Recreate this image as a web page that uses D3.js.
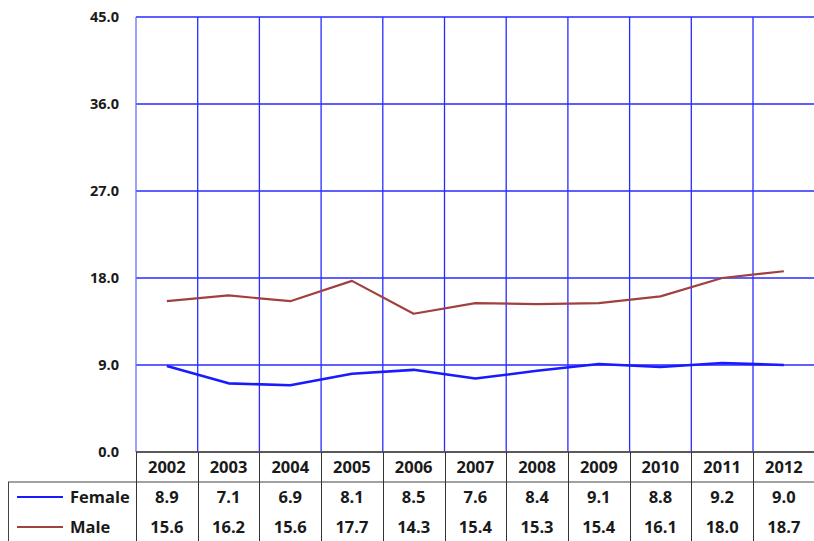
<!DOCTYPE html>
<html>
<head>
<meta charset="utf-8">
<script src="https://cdn.jsdelivr.net/npm/d3@7"></script>
<style>
  html, body { margin: 0; padding: 0; background: #fff; }
  svg { display: block; }
  text { font-family: "Open Sans", "Noto Sans", sans-serif; font-weight: bold; fill: #1a1a1a; }
</style>
</head>
<body>
<svg id="chart" width="814" height="541"></svg>
<script>
// Rates by year and sex
const years = ["2002","2003","2004","2005","2006","2007","2008","2009","2010","2011","2012"];
const female = [8.9, 7.1, 6.9, 8.1, 8.5, 7.6, 8.4, 9.1, 8.8, 9.2, 9.0];
const male = [15.6, 16.2, 15.6, 17.7, 14.3, 15.4, 15.3, 15.4, 16.1, 18.0, 18.7];
const yTicks = [0, 9, 18, 27, 36, 45];

const series = [
  { name: "Female", values: female, color: "#1a1aff", width: 2.6 },
  { name: "Male", values: male, color: "#a0403f", width: 2.2 }
];

const svg = d3.select("#chart");
const plotLeft = 136, plotRight = 814.7, plotTop = 17, plotBottom = 452;
const rowH = 30;
const tableLeft = 8;
const tableFont = 16.5;

const x = d3.scaleBand().domain(years).range([plotLeft, plotRight]).padding(0);
const y = d3.scaleLinear().domain([0, 45]).range([plotBottom, plotTop]);

// Horizontal gridlines
svg.append("g").selectAll("line").data(yTicks.filter(d => d > 0)).join("line")
  .attr("x1", plotLeft).attr("x2", plotRight)
  .attr("y1", d => y(d)).attr("y2", d => y(d))
  .attr("stroke", "#2a2aff").attr("stroke-width", 1.3);

// Vertical gridlines (category boundaries)
const bounds = years.map(d => x(d)).concat([plotRight]);
svg.append("g").selectAll("line").data(bounds).join("line")
  .attr("x1", d => d).attr("x2", d => d)
  .attr("y1", plotTop).attr("y2", plotBottom)
  .attr("stroke", (d, i) => i === 0 ? "#6a6aff" : "#2a2aff")
  .attr("stroke-width", 1.3);

// Y axis labels
const yAxis = d3.axisLeft(y).tickValues(yTicks).tickFormat(d3.format(".1f")).tickSize(0).tickPadding(17);
const ya = svg.append("g").attr("transform", `translate(${plotLeft},0)`).call(yAxis);
ya.select(".domain").remove();
ya.selectAll("text").attr("font-size", 14.5).attr("font-family", "'Open Sans', sans-serif")
  .attr("font-weight", "bold").attr("fill", "#1a1a1a");

// Lines
const line = d3.line()
  .x((d, i) => x(years[i]) + x.bandwidth() / 2)
  .y(d => y(d));
series.forEach(s => {
  svg.append("path").datum(s.values)
    .attr("d", line)
    .attr("fill", "none")
    .attr("stroke", s.color)
    .attr("stroke-width", s.width)
    .attr("stroke-linejoin", "round");
});

// Data table
const tg = svg.append("g");
// Category axis line
tg.append("line").attr("x1", plotLeft).attr("x2", plotRight).attr("y1", plotBottom).attr("y2", plotBottom)
  .attr("stroke", "#5a5a5a").attr("stroke-width", 2);
// Row separator under years, extending over legend cell
tg.append("line").attr("x1", tableLeft).attr("x2", plotRight)
  .attr("y1", plotBottom + rowH).attr("y2", plotBottom + rowH)
  .attr("stroke", "#444").attr("stroke-width", 1);
// Table left border
tg.append("line").attr("x1", tableLeft + 0.5).attr("x2", tableLeft + 0.5)
  .attr("y1", plotBottom + rowH).attr("y2", 541)
  .attr("stroke", "#444").attr("stroke-width", 1);
// Column separators
tg.selectAll("line.col").data(bounds).join("line").attr("class", "col")
  .attr("x1", d => Math.round(d) + 0.5).attr("x2", d => Math.round(d) + 0.5)
  .attr("y1", plotBottom).attr("y2", 541)
  .attr("stroke", "#333").attr("stroke-width", 1);

// Year labels
tg.selectAll("text.year").data(years).join("text").attr("class", "year")
  .attr("x", d => x(d) + x.bandwidth() / 2)
  .attr("y", plotBottom + rowH / 2 + 0.5)
  .attr("dy", "0.36em")
  .attr("text-anchor", "middle")
  .attr("font-size", tableFont)
  .text(d => d);

// Series rows
series.forEach((s, r) => {
  const cy = plotBottom + rowH * (r + 1) + rowH / 2;
  tg.append("line").attr("x1", 17).attr("x2", 63).attr("y1", cy).attr("y2", cy)
    .attr("stroke", s.color).attr("stroke-width", 2.2);
  tg.append("text").attr("x", 70).attr("y", cy + 0.5).attr("dy", "0.36em")
    .attr("font-size", tableFont).text(s.name);
  tg.selectAll(null).data(s.values).join("text")
    .attr("x", (d, i) => x(years[i]) + x.bandwidth() / 2)
    .attr("y", cy + 0.5).attr("dy", "0.36em")
    .attr("text-anchor", "middle")
    .attr("font-size", tableFont)
    .text(d => d3.format(".1f")(d));
});
</script>
</body>
</html>
